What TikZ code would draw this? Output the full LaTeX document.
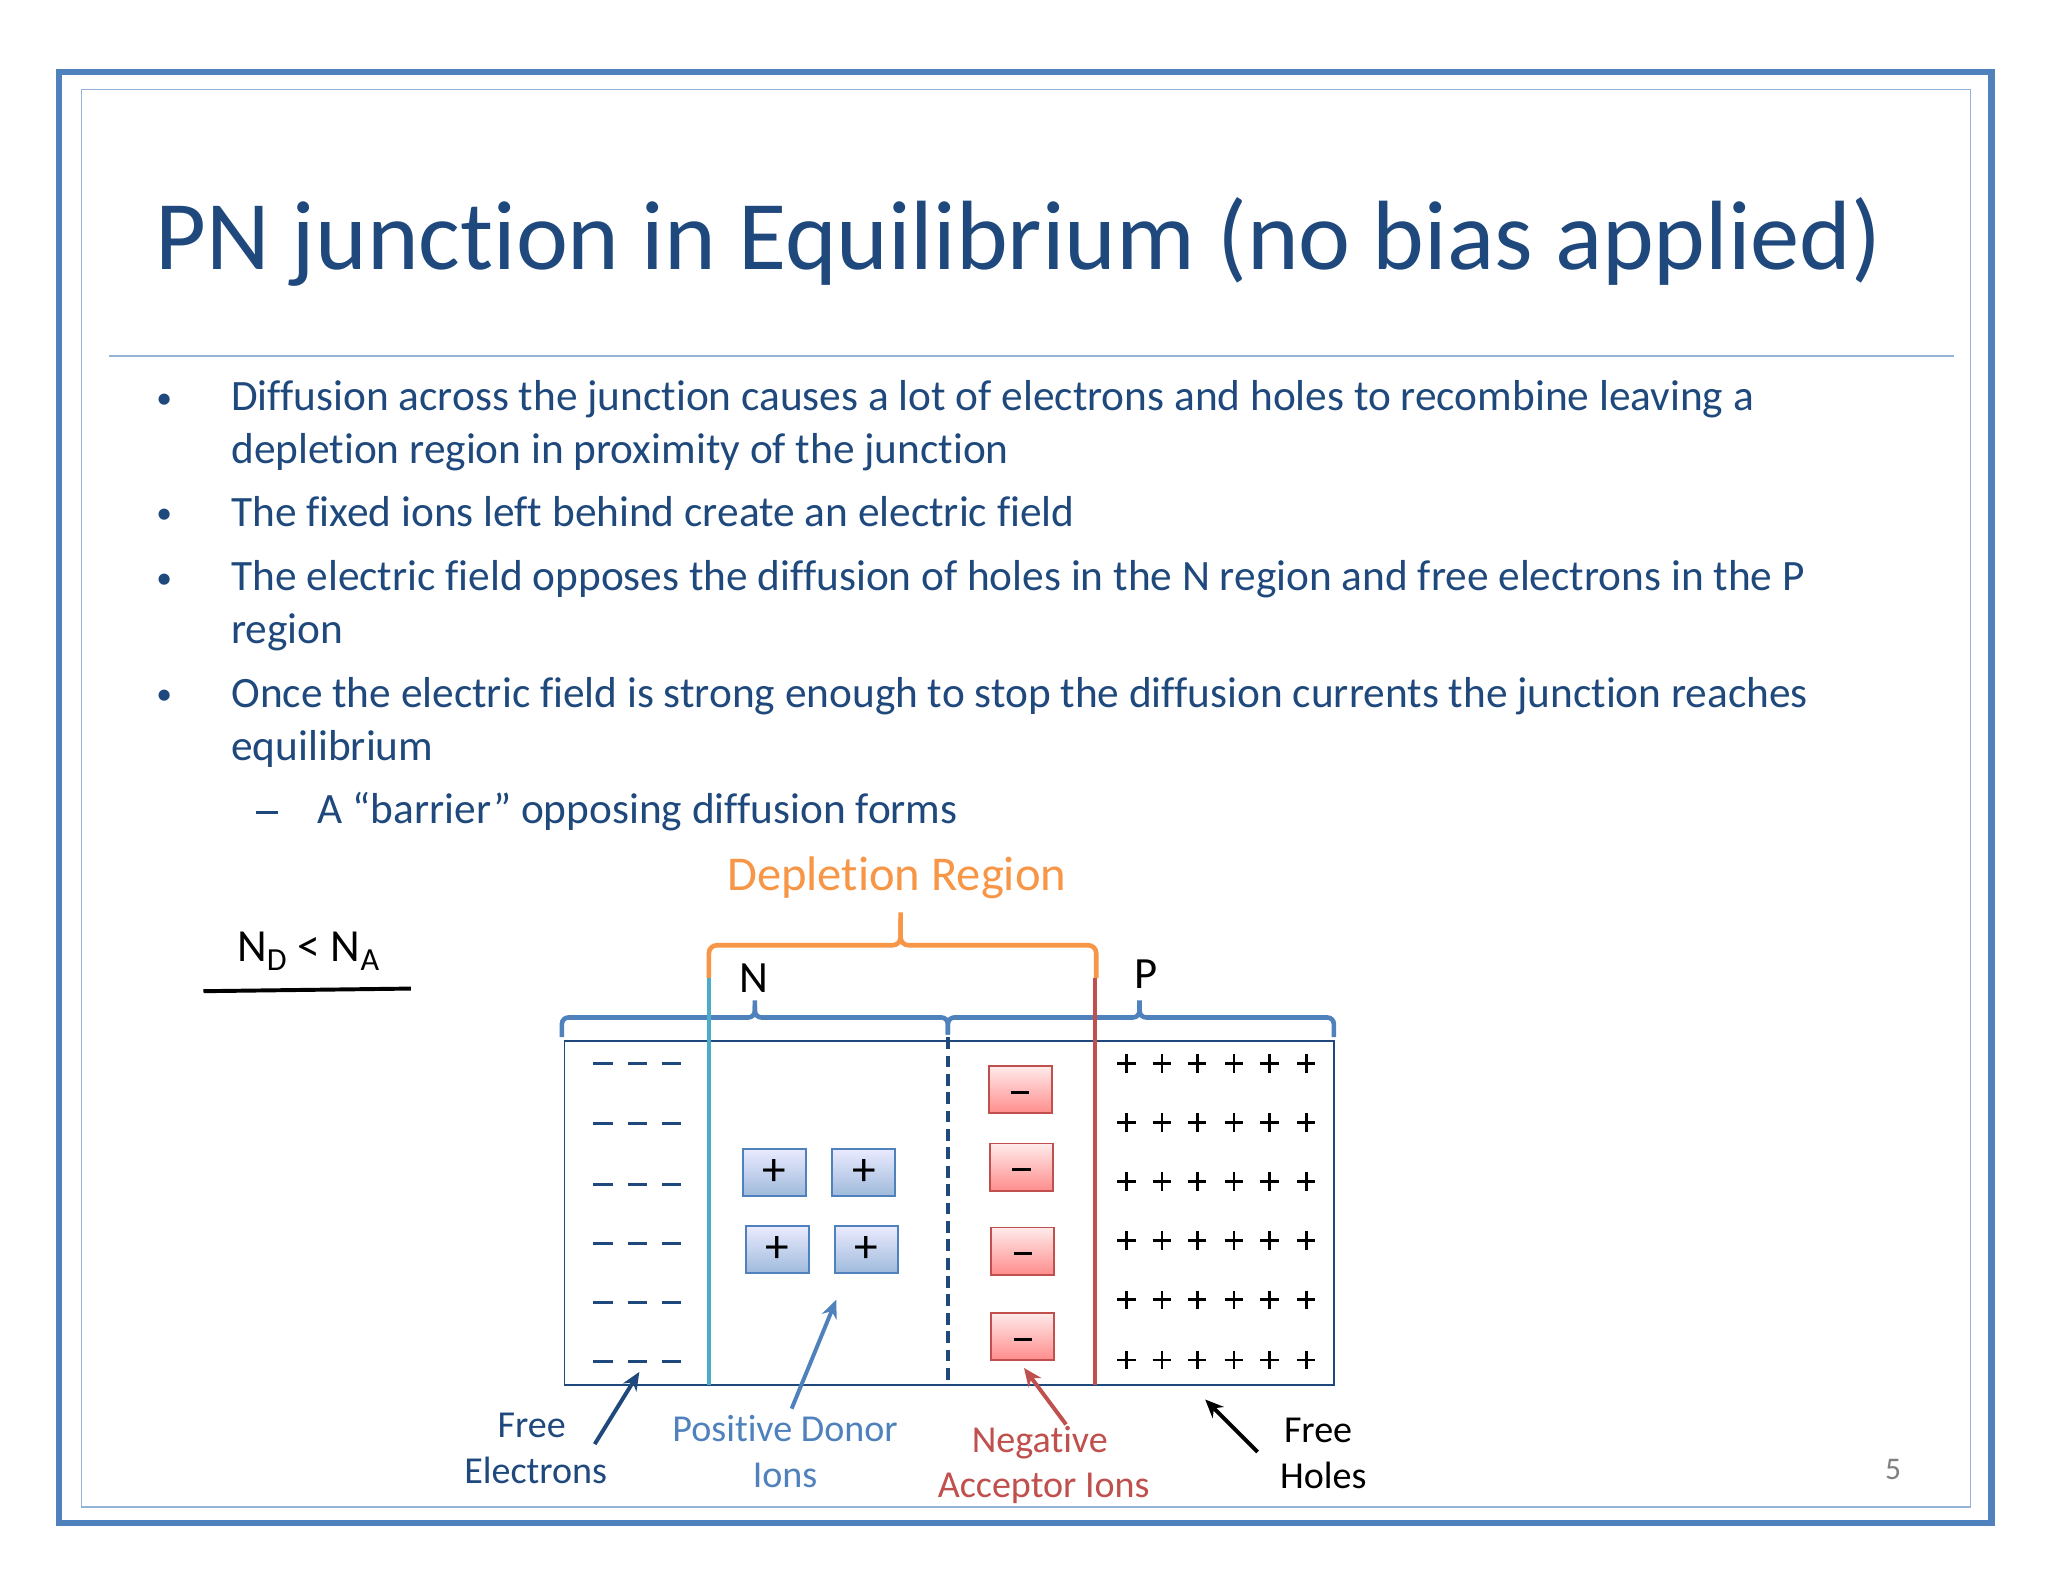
\documentclass[tikz,border=0pt]{standalone}
\usepackage{fontspec}
\setmainfont[RawFeature=-liga]{Carlito}
\usetikzlibrary{arrows.meta}
\definecolor{dblue}{HTML}{1F497D}
\definecolor{mblue}{HTML}{4F81BD}
\definecolor{lblue}{HTML}{95B3D7}
\definecolor{orng}{HTML}{F79646}
\definecolor{rred}{HTML}{C0504D}
\definecolor{cyanl}{HTML}{4BACC6}
\tikzset{
 body/.style={anchor=base west,text=dblue,font=\fontsize{33}{36}\selectfont,inner sep=0},
 lbl/.style={anchor=base,font=\fontsize{29}{30}\selectfont,inner sep=0},
 pbox/.style={draw=mblue,line width=1.5pt,top color=blue!8,bottom color=mblue!55,minimum width=48pt,minimum height=36pt,inner sep=0,font=\fontsize{36}{36}\selectfont},
 nbox/.style={draw=rred,line width=1.5pt,top color=red!8,bottom color=red!45,minimum width=48pt,minimum height=36pt,inner sep=0},
 arr/.style={line width=3pt,-{Stealth[length=14pt,width=12pt]}},
}
\begin{document}
\begin{tikzpicture}[x=1pt,y=-1pt]
\useasboundingbox[fill=white] (0,0) rectangle (1560,1205);
\draw[mblue,line width=5pt] (45,55) rectangle (1517,1160);
\draw[lblue,line width=1pt] (62,68) rectangle (1501,1148);
\node[anchor=base west,text=dblue,font=\fontsize{75}{78}\selectfont,inner sep=0] (title) at (118,205) {PN junction in Equilibrium (no bias applied)};
\draw[lblue,line width=1.2pt] (83,271) -- (1488,271);
\foreach \y in {313,401,450,539} {\node[body,font=\fontsize{24}{26}\selectfont] at (119,\y-2) {•};}
\node[body] (b1) at (176,313) {Diffusion across the junction causes a lot of electrons and holes to recombine leaving a};
\node[body] (b1b) at (176,353) {depletion region in proximity of the junction};
\node[body] (b2) at (176,401) {The fixed ions left behind create an electric field};
\node[body] (b3) at (176,450) {The electric field opposes the diffusion of holes in the N region and free electrons in the P};
\node[body] (b3b) at (176,490) {region};
\node[body] (b4) at (176,539) {Once the electric field is strong enough to stop the diffusion currents the junction reaches};
\node[body] (b4b) at (176,579) {equilibrium};
\draw[dblue,line width=2pt] (195,619) -- (212,619);
\node[body] (b5) at (242,627) {A “barrier” opposing diffusion forms};
\node[lbl,text=orng,font=\fontsize{37}{40}\selectfont] (dep) at (683,678) {Depletion Region};
\node[lbl,font=\fontsize{35}{36}\selectfont] (nd) at (235,732) {N\textsubscript{D} < N\textsubscript{A}};
\draw[black,line width=3pt] (155,755) -- (313,753);
\draw[orng,line width=3.5pt,rounded corners=6pt] (540,745) -- (540,720) -- (686,720) -- (686,695);
\draw[orng,line width=3.5pt,rounded corners=6pt] (686,700) -- (686,720) -- (835,720) -- (835,745);
\draw[mblue,line width=3.5pt,rounded corners=5pt] (428,790) -- (428,775) -- (575,775) -- (575,762);
\draw[mblue,line width=3.5pt,rounded corners=5pt] (575,766) -- (575,775) -- (722,775) -- (722,788);
\draw[mblue,line width=3.5pt,rounded corners=5pt] (722,788) -- (722,775) -- (868,775) -- (868,762);
\draw[mblue,line width=3.5pt,rounded corners=5pt] (868,766) -- (868,775) -- (1016,775) -- (1016,790);
\node[lbl,font=\fontsize{34}{34}\selectfont] (N) at (574,756) {N};
\node[lbl,font=\fontsize{34}{34}\selectfont] (P) at (873,753) {P};
\draw[dblue,line width=1.2pt] (430,793) rectangle (1016,1055);
\draw[cyanl,line width=3pt] (540,745) -- (540,1055);
\draw[rred,line width=3pt] (834,745) -- (834,1055);
\draw[dblue,line width=3pt,dash pattern=on 9pt off 5pt] (722,790) -- (722,1055);
\foreach \y in {810,856,902,947,992,1037} {
 \foreach \x in {452,478,504} {\draw[dblue,line width=2.2pt] (\x,\y) -- (\x+15,\y);}
 }
\foreach \y in {810,855,900,945,990,1036} {
 \foreach \x in {858,885,912,940,967,995} {\draw[black,line width=2pt] (\x-7,\y) -- (\x+7,\y) (\x,\y-7) -- (\x,\y+7);}
 }
\node[pbox] (p1) at (590,893) {+};
\node[pbox] (p2) at (658,893) {+};
\node[pbox] (p3) at (592,952) {+};
\node[pbox] (p4) at (660,952) {+};
\foreach \n/\x/\y in {m1/777/830,m2/778/889,m3/779/953,m4/779/1018} {
 \node[nbox] (\n) at (\x,\y) {};
 \draw[black,line width=2.2pt] ([xshift=-7pt,yshift=-2pt]\n.center) -- ([xshift=7pt,yshift=-2pt]\n.center);
}
\coordinate (fe1) at (453,1100); \coordinate (fe2) at (487,1045);
\draw[arr,dblue] (fe1) -- (fe2);
\coordinate (pd1) at (603,1073); \coordinate (pd2) at (637,990);
\draw[arr,mblue] (pd1) -- (pd2);
\coordinate (na1) at (812,1085); \coordinate (na2) at (780,1042);
\draw[arr,rred] (na1) -- (na2);
\coordinate (fh1) at (958,1106); \coordinate (fh2) at (918,1066);
\draw[arr,black] (fh1) -- (fh2);
\node[lbl,text=dblue] (fe) at (405,1095) {Free};
\node[lbl,text=dblue] (fe3) at (408,1130) {Electrons};
\node[lbl,text=mblue] (pdl) at (598,1098) {Positive Donor};
\node[lbl,text=mblue] (pdl2) at (598,1133) {Ions};
\node[lbl,text=rred] (nal) at (792,1106) {Negative};
\node[lbl,text=rred] (nal2) at (795,1141) {Acceptor Ions};
\node[lbl] (fhl) at (1004,1099) {Free};
\node[lbl] (fhl2) at (1008,1134) {Holes};
\node[lbl,text=gray,font=\fontsize{24}{24}\selectfont] (pg) at (1442,1127) {5};
\end{tikzpicture}
\end{document}
